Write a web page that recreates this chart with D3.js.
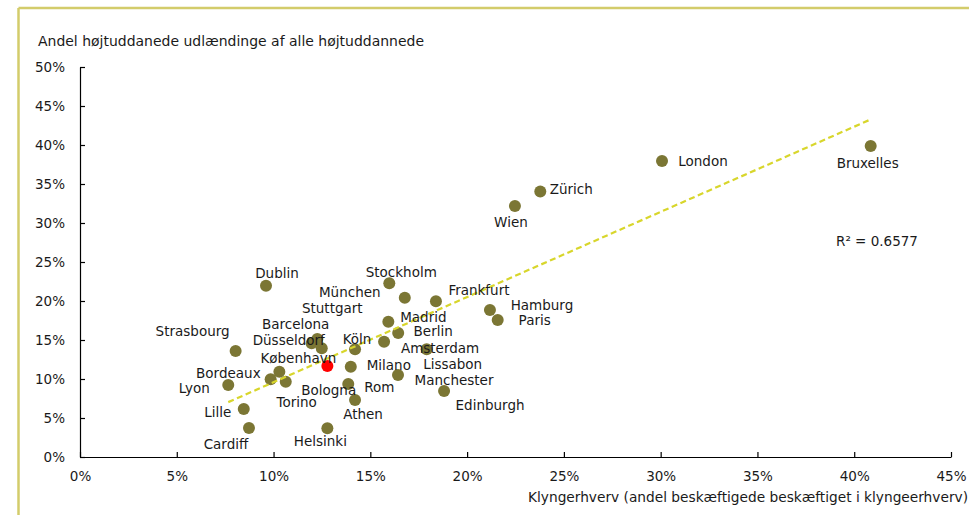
<!DOCTYPE html>
<html>
<head>
<meta charset="utf-8">
<script src="https://cdn.jsdelivr.net/npm/d3@7"></script>
<style>
  html, body { margin: 0; padding: 0; background: #fff; }
  svg { display: block; }
</style>
</head>
<body>
<svg id="chart" width="969" height="515"></svg>
<script>
// ---- data ----
const cities = ["London","Bruxelles","Zürich","Wien","Dublin","Stockholm","München","Frankfurt",
  "Hamburg","Paris","Madrid","Berlin","Amsterdam","Lissabon","Köln","Milano","Manchester",
  "Edinburgh","Rom","Athen","Helsinki","Cardiff","Lille","Lyon","Bordeaux","Torino","Bologna",
  "Stuttgart","Barcelona","Düsseldorf","København","Strasbourg"];
// Klyngerhverv (share employed in cluster industries)
const clusterShare = [0.3007,0.4085,0.2378,0.2247,0.0961,0.1598,0.1678,0.1839,
  0.2118,0.2158,0.1593,0.1644,0.1571,0.1791,0.1421,0.1399,0.1643,
  0.1881,0.1386,0.1421,0.1278,0.0873,0.0846,0.0766,0.1030,0.0985,0.1063,
  0.1226,0.1197,0.1249,0.1278,0.0804];
// Andel højtuddanede udlændinge af alle højtuddannede
const foreignShare = [0.3795,0.3988,0.3404,0.3218,0.2196,0.2227,0.2042,0.1996,
  0.1885,0.1756,0.1735,0.1590,0.1478,0.1381,0.1381,0.1158,0.1051,
  0.0846,0.0936,0.0731,0.0368,0.0372,0.0615,0.0923,0.1094,0.0996,0.0965,
  0.1513,0.1458,0.1394,0.1167,0.1359];
const highlightCity = "København";
const xTickValues = [0,0.05,0.10,0.15,0.20,0.25,0.30,0.35,0.40,0.45];
const yTickValues = [0,0.05,0.10,0.15,0.20,0.25,0.30,0.35,0.40,0.45,0.50];
const trendSlope = 1.092;
const trendIntercept = -0.0133;
const rSquaredText = "R² = 0.6577";
const yTitle = "Andel højtuddanede udlændinge af alle højtuddannede";
const xTitle = "Klyngerhverv (andel beskæftigede beskæftiget i klyngeerhverv)";

// ---- label placement (pixel offset of label centre from its dot) ----
const labelOffsets = {
  "London":[41,0],"Bruxelles":[-3,17],"Zürich":[31,-2],"Wien":[-4,16],"Dublin":[11,-13],
  "Stockholm":[12,-11],"München":[-55,-6],"Frankfurt":[43,-11],"Hamburg":[52,-5],"Paris":[37,0],
  "Madrid":[35,-5],"Berlin":[35,-2],"Amsterdam":[56,6],"Lissabon":[26,15],"Köln":[2,-10],
  "Milano":[38,-2],"Manchester":[56,5],"Edinburgh":[46,14],"Rom":[31,3],"Athen":[8,14],
  "Helsinki":[-7,13],"Cardiff":[-23,16],"Lille":[-26,3],"Lyon":[-34,3],"Bordeaux":[-51,1],
  "Torino":[26,23],"Bologna":[43,8],"Stuttgart":[15,-31],"Barcelona":[-16,-19],
  "Düsseldorf":[-33,-8],"København":[-29,-8],"Strasbourg":[-43,-20]
};

const points = cities.map((c,i) => ({city:c, x:clusterShare[i], y:foreignShare[i]}));

const svg = d3.select("#chart");
const x = d3.scaleLinear().domain([0,0.45]).range([80,951]);
const y = d3.scaleLinear().domain([0,0.50]).range([457,67]);
const pct = d => Math.round(d*100) + "%";

const tickFont = "'DejaVu Sans', sans-serif";
const titleFont = "'DejaVu Sans Condensed', 'DejaVu Sans', sans-serif";
const textColor = "#1a1a1a";

// frame (yellow border lines)
svg.append("line").attr("x1",18.5).attr("x2",969).attr("y1",8).attr("y2",8)
  .attr("stroke","#d3cc6b").attr("stroke-width",2.5);
svg.append("line").attr("x1",18.5).attr("x2",18.5).attr("y1",8).attr("y2",515)
  .attr("stroke","#d3cc6b").attr("stroke-width",2.5);

// axes
const gx = svg.append("g").attr("transform",`translate(0,${y(0)})`)
  .call(d3.axisBottom(x).tickValues(xTickValues).tickFormat(pct)
    .tickSizeInner(-5).tickSizeOuter(0).tickPadding(14));
const gy = svg.append("g").attr("transform",`translate(${x(0)},0)`)
  .call(d3.axisLeft(y).tickValues(yTickValues).tickFormat(pct)
    .tickSizeInner(-5).tickSizeOuter(0).tickPadding(15));
[gx, gy].forEach(g => {
  g.select(".domain").attr("stroke","#000").attr("stroke-width",1.2);
  g.selectAll(".tick line").attr("stroke","#000").attr("stroke-width",1.2);
  g.selectAll(".tick text").attr("fill",textColor)
    .style("font-family",tickFont).style("font-size","13.5px");
});

// axis titles
svg.append("text").attr("x",38).attr("y",42).attr("dominant-baseline","middle")
  .attr("textLength",386).attr("lengthAdjust","spacingAndGlyphs")
  .style("font-family",titleFont).style("font-size","14px").attr("fill",textColor)
  .text(yTitle);
svg.append("text").attr("x",528).attr("y",498).attr("dominant-baseline","middle")
  .attr("textLength",440).attr("lengthAdjust","spacingAndGlyphs")
  .style("font-family",titleFont).style("font-size","14px").attr("fill",textColor)
  .text(xTitle);

// points
svg.append("g").selectAll("circle").data(points).join("circle")
  .attr("cx",d=>x(d.x)).attr("cy",d=>y(d.y)).attr("r",6)
  .attr("fill",d=>d.city===highlightCity ? "#ff0000" : "#7b7634");

// trend line
const xMin = d3.min(clusterShare), xMax = d3.max(clusterShare);
svg.append("line")
  .attr("x1",x(xMin)).attr("y1",y(trendSlope*xMin+trendIntercept))
  .attr("x2",x(xMax)).attr("y2",y(trendSlope*xMax+trendIntercept))
  .attr("stroke","#d8d62c").attr("stroke-width",2.2).attr("stroke-dasharray","6,3.5");

// labels
svg.append("g").selectAll("text").data(points).join("text")
  .attr("x",d=>x(d.x)+labelOffsets[d.city][0])
  .attr("y",d=>y(d.y)+labelOffsets[d.city][1])
  .attr("text-anchor","middle").attr("dominant-baseline","central")
  .style("font-family",tickFont).style("font-size","13.5px").attr("fill",textColor)
  .text(d=>d.city);

// R² annotation
svg.append("text").attr("x",877).attr("y",241).attr("text-anchor","middle")
  .attr("dominant-baseline","central")
  .style("font-family",tickFont).style("font-size","13.5px").attr("fill",textColor)
  .text(rSquaredText);
</script>
</body>
</html>
